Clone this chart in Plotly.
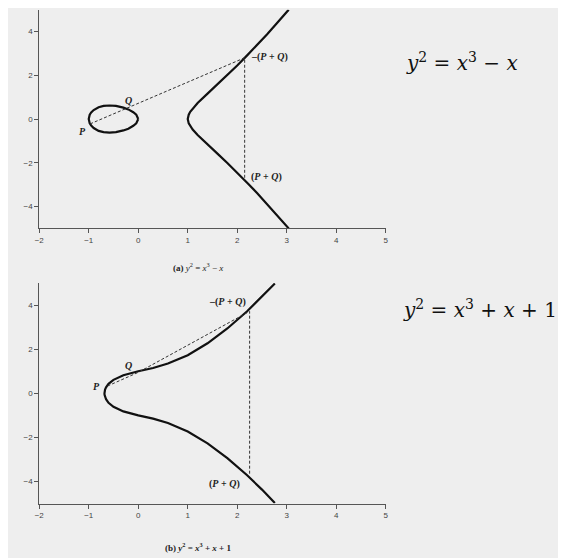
import plotly.graph_objects as go
from plotly.subplots import make_subplots

# curve (a) y^2 = x^3 - x (upper half)
oval_x = [-1, -0.98, -0.95, -0.9, -0.8, -0.7, -0.58, -0.45, -0.3, -0.2, -0.1, -0.04, 0]
oval_y = [0, 0.20, 0.30, 0.41, 0.54, 0.60, 0.62, 0.60, 0.52, 0.44, 0.31, 0.20, 0]
branch_a_x = [1, 1.02, 1.05, 1.1, 1.2, 1.4, 1.6, 1.8, 2.0, 2.2, 2.4, 2.6, 2.8, 3.04]
branch_a_y = [0, 0.20, 0.33, 0.48, 0.73, 1.16, 1.58, 2.01, 2.45, 2.91, 3.38, 3.87, 4.38, 5.0]

# curve (b) y^2 = x^3 + x + 1 (upper half)
branch_b_x = [-0.682, -0.68, -0.67, -0.65, -0.6, -0.5, -0.3, 0, 0.3, 0.6, 1.0, 1.4, 1.8, 2.2, 2.5, 2.76]
branch_b_y = [0, 0.07, 0.17, 0.27, 0.43, 0.61, 0.82, 1.0, 1.15, 1.35, 1.73, 2.27, 2.94, 3.72, 4.37, 4.98]

# secant lines: P -> Q -> -(P+Q), then vertical to (P+Q)
sec_a_x = [-0.97, -0.2, 2.15, 2.15]
sec_a_y = [-0.22, 0.52, 2.8, -2.8]
sec_b_x = [-0.62, 0.0, 2.25, 2.25]
sec_b_y = [0.33, 0.95, 3.72, -3.72]

def mirror(xs, ys):
    return xs[::-1] + xs[1:], [-v for v in ys[::-1]] + ys[1:]

fig = make_subplots(rows=2, cols=1)
line = dict(color="#111111", width=2.2)
dash = dict(color="#333333", width=1, dash="3px,2px")

for xs, ys in [(oval_x, oval_y), (branch_a_x, branch_a_y)]:
    mx, my = mirror(xs, ys)
    fig.add_trace(go.Scatter(x=mx, y=my, mode="lines", line=line), row=1, col=1)
fig.add_trace(go.Scatter(x=sec_a_x, y=sec_a_y, mode="lines", line=dash), row=1, col=1)

mx, my = mirror(branch_b_x, branch_b_y)
fig.add_trace(go.Scatter(x=mx, y=my, mode="lines", line=line), row=2, col=1)
fig.add_trace(go.Scatter(x=sec_b_x, y=sec_b_y, mode="lines", line=dash), row=2, col=1)

axis = dict(range=[-2, 5], showgrid=False, zeroline=False, showline=True,
            linecolor="#555555", linewidth=1, ticks="outside", ticklen=4,
            tickcolor="#555555", tickfont=dict(size=8, color="#444444", family="Liberation Sans"))
yaxis = dict(axis, range=[-5, 5], tickvals=[-4, -2, 0, 2, 4],
             ticktext=["\u22124", "\u22122", "0", "2", "4"])
xaxis = dict(axis, tickvals=[-2, -1, 0, 1, 2, 3, 4, 5],
             ticktext=["\u22122", "\u22121", "0", "1", "2", "3", "4", "5"])

fig.update_layout(
    width=566, height=558, showlegend=False,
    margin=dict(l=0, r=0, t=0, b=0),
    paper_bgcolor="#eeeeee", plot_bgcolor="#eeeeee",
    xaxis=dict(xaxis, domain=[0.047, 0.668], anchor="y"),
    yaxis=dict(yaxis, domain=[0.605, 0.997], anchor="x"),
    xaxis2=dict(xaxis, domain=[0.047, 0.668], anchor="y2"),
    yaxis2=dict(yaxis, domain=[0.112, 0.507], anchor="x2"),
)

lab = dict(size=10, color="#222222", family="Liberation Serif")
labels = [
    ("x", "y", -1.12, -0.55, "<b><i>P</i></b>"),
    ("x", "y", -0.2, 0.85, "<b><i>Q</i></b>"),
    ("x", "y", 2.65, 2.85, "<b>\u2013(<i>P</i> + <i>Q</i>)</b>"),
    ("x", "y", 2.6, -2.65, "<b>(<i>P</i> + <i>Q</i>)</b>"),
    ("x2", "y2", -0.85, 0.3, "<b><i>P</i></b>"),
    ("x2", "y2", -0.2, 1.25, "<b><i>Q</i></b>"),
    ("x2", "y2", 1.8, 4.15, "<b>\u2013(<i>P</i> + <i>Q</i>)</b>"),
    ("x2", "y2", 1.75, -4.1, "<b>(<i>P</i> + <i>Q</i>)</b>"),
]
for xr, yr, x, y, t in labels:
    fig.add_annotation(xref=xr, yref=yr, x=x, y=y, text=t, showarrow=False, font=lab)

cap = dict(size=9, color="#222222", family="Liberation Serif")
fig.add_annotation(xref="x", yref="paper", x=1.2, y=0.535, showarrow=False, font=cap,
                   text="<b>(a)</b> <i>y</i><sup>2</sup> = <i>x</i><sup>3</sup> \u2212 <i>x</i>")
fig.add_annotation(xref="x2", yref="paper", x=1.2, y=0.02, showarrow=False, font=cap,
                   text="<b>(b) <i>y</i><sup>2</sup> = <i>x</i><sup>3</sup> + <i>x</i> + 1</b>")

eq = dict(size=20, color="#111111", family="DejaVu Serif")
fig.add_annotation(xref="paper", yref="paper", x=0.805, y=0.93, xanchor="center",
                   showarrow=False, font=eq,
                   text="<i>y</i><sup>2</sup> = <i>x</i><sup>3</sup> \u2212 <i>x</i>")
fig.add_annotation(xref="paper", yref="paper", x=0.837, y=0.46, xanchor="center",
                   showarrow=False, font=eq,
                   text="<i>y</i><sup>2</sup> = <i>x</i><sup>3</sup> + <i>x</i> + 1")

fig.write_html("out.html")
